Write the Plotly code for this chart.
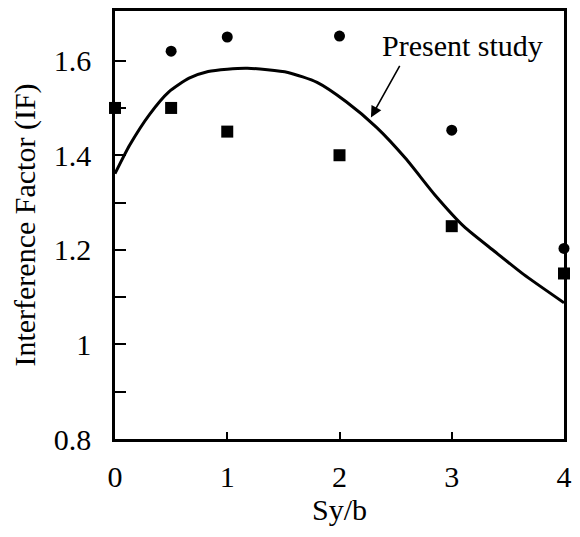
import plotly.graph_objects as go

# Data
sq_x = [0, 0.5, 1, 2, 3, 4]
sq_y = [1.50, 1.50, 1.45, 1.40, 1.25, 1.15]
ci_x = [0.5, 1, 2, 3, 4]
ci_y = [1.62, 1.65, 1.652, 1.453, 1.203]
curve_x = [0, 0.13, 0.31, 0.48, 0.66, 0.83, 1.0, 1.18, 1.54, 1.8, 2.06, 2.33, 2.59, 2.85, 3.11, 3.38, 3.64, 4.0]
curve_y = [1.361, 1.421, 1.487, 1.534, 1.563, 1.577, 1.582, 1.584, 1.575, 1.554, 1.513, 1.459, 1.393, 1.316, 1.249, 1.197, 1.148, 1.088]
x_ticks = [0, 1, 2, 3, 4]
y_ticks = [0.8, 1.0, 1.2, 1.4, 1.6]
y_tick_text = ["0.8", "1", "1.2", "1.4", "1.6"]

FONT = "Liberation Serif"
FS = 30

fig = go.Figure()
fig.add_trace(go.Scatter(x=curve_x, y=curve_y, mode="lines",
                         line=dict(color="black", width=3, shape="spline", smoothing=0.6),
                         showlegend=False, hoverinfo="skip"))
fig.add_trace(go.Scatter(x=sq_x, y=sq_y, mode="markers",
                         marker=dict(symbol="square", size=12, color="black"),
                         cliponaxis=False, showlegend=False))
fig.add_trace(go.Scatter(x=ci_x, y=ci_y, mode="markers",
                         marker=dict(symbol="circle", size=11, color="black"),
                         cliponaxis=False, showlegend=False))

fig.add_annotation(x=3.096, y=1.632, xref="x", yref="y", text="Present study",
                   showarrow=False, font=dict(family=FONT, size=FS, color="black"))
fig.add_annotation(x=2.28, y=1.48, ax=2.544, ay=1.592, xref="x", yref="y",
                   axref="x", ayref="y", text="", showarrow=True,
                   arrowhead=2, arrowsize=1.4, arrowwidth=1.6, arrowcolor="black")

fig.update_layout(
    width=580, height=537,
    margin=dict(l=115, r=9, t=8, b=98),
    paper_bgcolor="white", plot_bgcolor="white",
    font=dict(family=FONT, size=FS, color="black"),
    xaxis=dict(range=[0, 4], tickvals=x_ticks, ticks="inside", ticklen=7, tickwidth=1.5,
               tickcolor="black", showline=True, linecolor="black", linewidth=2.5,
               mirror=True, showgrid=False, zeroline=False, ticklabelstandoff=9,
               title=dict(text="Sy/b", standoff=4, font=dict(family=FONT, size=FS))),
    yaxis=dict(range=[0.8, 1.705], tickvals=y_ticks, ticktext=y_tick_text, ticks="inside",
               ticklen=11, tickwidth=1.5, tickcolor="black", showline=True,
               linecolor="black", linewidth=2.5, mirror=True, showgrid=False,
               zeroline=False, ticklabelstandoff=15,
               minor=dict(tickvals=[0.9, 1.1, 1.3, 1.5], ticks="inside", ticklen=11,
                          tickwidth=1.5, tickcolor="black"),
               title=dict(text="Interference Factor (IF)", standoff=10,
                          font=dict(family=FONT, size=FS))),
)

fig.write_html("out.html")
